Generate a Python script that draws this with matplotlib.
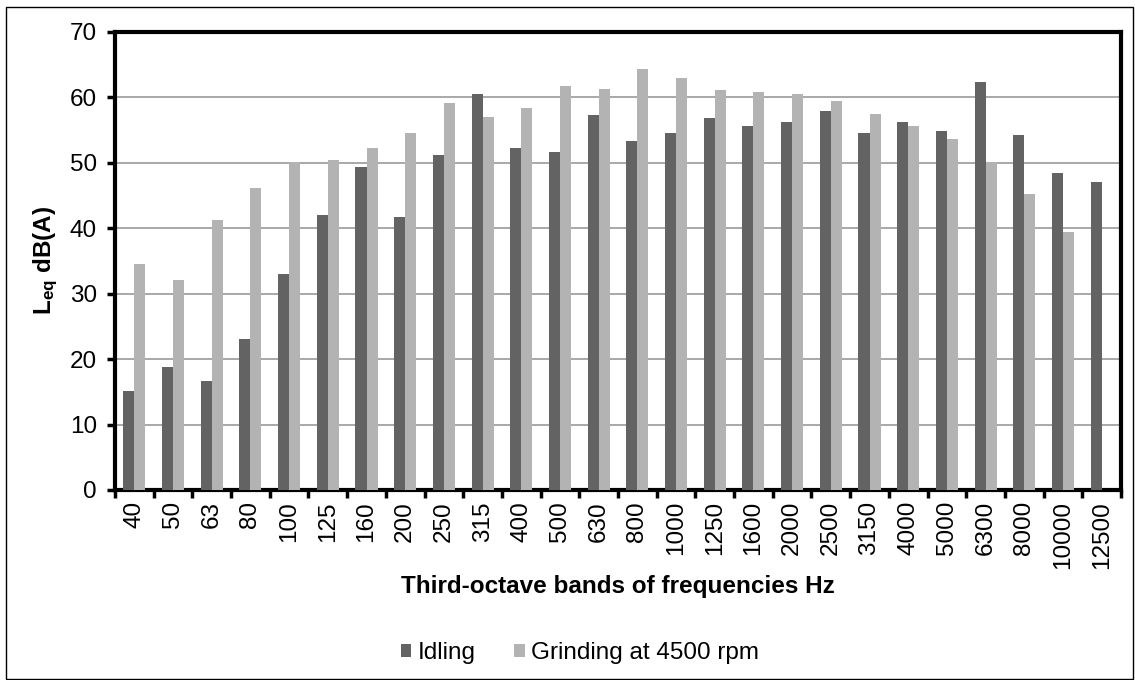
import numpy as np
import matplotlib
matplotlib.use("Agg")
import matplotlib.pyplot as plt
from matplotlib.patches import Rectangle

plt.rcParams['font.family'] = ['Liberation Sans', 'DejaVu Sans']
plt.rcParams['mathtext.fontset'] = 'custom'
plt.rcParams['mathtext.bf'] = 'Liberation Sans:bold'
plt.rcParams['mathtext.rm'] = 'Liberation Sans'

bands = ["40", "50", "63", "80", "100", "125", "160", "200", "250", "315",
         "400", "500", "630", "800", "1000", "1250", "1600", "2000", "2500",
         "3150", "4000", "5000", "6300", "8000", "10000", "12500"]
idling = [15.1, 18.8, 16.6, 23.1, 33.0, 42.1, 49.3, 41.7, 51.2, 60.6,
          52.2, 51.6, 57.3, 53.3, 54.5, 56.9, 55.6, 56.2, 58.0,
          54.5, 56.3, 54.9, 62.3, 54.3, 48.5, 47.0]
grinding = [34.5, 32.1, 41.2, 46.2, 50.2, 50.5, 52.3, 54.5, 59.2, 57.0,
            58.4, 61.8, 61.3, 64.4, 62.9, 61.1, 60.9, 60.6, 59.5,
            57.5, 55.7, 53.7, 50.2, 45.3, 39.5, np.nan]

W, H = 1135, 680
FS = 17.5
fig = plt.figure(figsize=(W / 100, H / 100), dpi=100)
ax = fig.add_axes([115 / W, 1 - 490 / H, (1121 - 115) / W, (490 - 32) / H])

x = np.arange(len(bands))
w = 0.286
ax.bar(x - w / 2, idling, w, color="#636363", label="Idling", zorder=3)
ax.bar(x + w / 2, grinding, w, color="#b3b3b3", label="Grinding at 4500 rpm", zorder=3)

ax.set_xlim(-0.5, len(bands) - 0.5)
ax.set_ylim(0, 70)
ax.set_yticks(range(0, 71, 10))
ax.yaxis.grid(True, color="#9a9a9a", linewidth=1.2, zorder=0)
ax.set_axisbelow(True)

# ticks between categories like the original
ax.set_xticks(np.arange(-0.5, len(bands), 1.0))
ax.set_xticklabels([])
ax.set_xticks(x, minor=True)
ax.set_xticklabels(bands, minor=True, rotation=90, fontsize=FS)
ax.tick_params(axis="x", which="minor", length=0, pad=8)
ax.tick_params(axis="x", which="major", length=6, width=2.5, direction="out")
ax.tick_params(axis="y", length=6, width=2.5, direction="out", labelsize=FS, pad=7)

for s in ax.spines.values():
    s.set_linewidth(3)
    s.set_color("black")

fig.text(618 / W, 1 - 587 / H, "Third-octave bands of frequencies Hz",
         fontsize=FS, fontweight="bold", ha="center", va="center")
fig.text(46 / W, 1 - 260 / H, r"$\mathbf{L_{eq}}$ dB(A)", fontsize=FS,
         fontweight="bold", rotation=90, ha="center", va="center")

fig.legend(loc="center", bbox_to_anchor=(580 / W, 1 - 653 / H), ncol=2,
           frameon=False, fontsize=FS, handlelength=0.45, handleheight=0.45,
           handletextpad=0.25, columnspacing=1.6)

fig.patches.append(Rectangle((6 / W, 1 / H), (W - 8) / W, (H - 8) / H,
                             transform=fig.transFigure, fill=False,
                             edgecolor="black", linewidth=1))

fig.savefig("out.png", dpi=100)
